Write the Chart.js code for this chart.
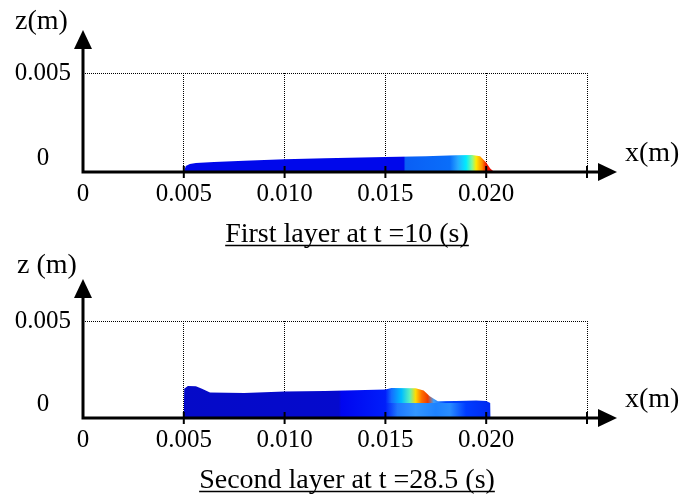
<!DOCTYPE html>
<html>
<head>
<meta charset="utf-8">
<script src="https://cdn.jsdelivr.net/npm/chart.js@4/dist/chart.umd.min.js"></script>
<style>
  html, body { margin: 0; padding: 0; background: #fff; }
  canvas { display: block; }
</style>
</head>
<body>
<canvas id="layer1" width="682" height="250"></canvas>
<canvas id="layer2" width="682" height="249"></canvas>
<script>
// axes
const xTicks = [0, 0.005, 0.010, 0.015, 0.020, 0.025];
const xTickLabels = ['0', '0.005', '0.010', '0.015', '0.020', ''];
const zTicks = [0, 0.005];
const zTickLabels = ['0', '0.005'];

// first layer, t = 10 s : top surface of the deposit
const layer1X = [0.0050, 0.0051, 0.0053, 0.0056, 0.0065, 0.0080, 0.0100, 0.0120, 0.0150, 0.0170, 0.0185, 0.0193, 0.0197, 0.0200, 0.0202, 0.0204];
const layer1Z = [-0.0008, -0.00045, -0.00033, -0.00028, -0.00022, -0.00014, -0.00005, 0.0000, 0.00008, 0.00013, 0.00018, 0.00019, 0.00012, -0.00025, -0.0006, -0.0008];
const layer1ColorX = [0.0050, 0.0159, 0.0160, 0.0182, 0.0186, 0.0190, 0.0193, 0.0195, 0.0198, 0.0200, 0.0205];
const layer1Colors = ['rgb(0,8,235)', 'rgb(0,8,235)', 'rgb(10,95,245)', 'rgb(10,110,250)', 'rgb(40,170,255)', 'rgb(0,235,255)',
  'rgb(130,250,150)', 'rgb(255,235,0)', 'rgb(255,140,0)', 'rgb(240,20,0)', 'rgb(230,0,0)'];

// second layer, t = 28.5 s
const layer2X = [0.0050, 0.00502, 0.0052, 0.0056, 0.0059, 0.0063, 0.0080, 0.0100, 0.0120, 0.0150, 0.0153, 0.0165, 0.0169, 0.0172, 0.0176, 0.0185, 0.0195, 0.0200, 0.0202, 0.02022];
const layer2Z = [-0.0008, 0.00095, 0.00112, 0.00110, 0.00095, 0.00072, 0.00070, 0.00078, 0.00082, 0.00090, 0.00100, 0.00098, 0.00085, 0.00050, 0.00020, 0.00022, 0.00024, 0.00022, 0.00010, -0.0008];
const layer2ColorX = [0.0050, 0.0127, 0.0128, 0.0150, 0.0153, 0.0158, 0.0162, 0.0165, 0.0168, 0.0171, 0.0174, 0.0180, 0.0203];
const layer2Colors = ['rgb(5,10,200)', 'rgb(5,10,205)', 'rgb(0,5,240)', 'rgb(0,30,250)', 'rgb(20,110,255)', 'rgb(0,190,255)',
  'rgb(90,240,190)', 'rgb(255,220,0)', 'rgb(255,110,0)', 'rgb(240,60,0)', 'rgb(60,160,255)', 'rgb(0,70,255)', 'rgb(0,40,240)'];
// lower band of the second layer below the step
const band2X = [0.0150, 0.0202];
const band2Z = [0.0001, 0.0001];
const band2ColorX = [0.0150, 0.0156, 0.0165, 0.0175, 0.0182, 0.0190, 0.0203];
const band2Colors = ['rgb(0,30,250)', 'rgb(30,120,255)', 'rgb(50,150,255)', 'rgb(30,130,255)', 'rgb(40,140,255)', 'rgb(0,60,255)', 'rgb(0,40,240)'];

const serif = '"Liberation Serif", "Times New Roman", serif';

function gradientFill(xs, cols) {
  return function (c) {
    const chart = c.chart;
    const a = chart.chartArea;
    if (!a) return cols[0];
    const sx = chart.scales.x;
    const g = chart.ctx.createLinearGradient(a.left, 0, a.right, 0);
    xs.forEach((v, i) => {
      const off = (sx.getPixelForValue(v) - a.left) / (a.right - a.left);
      g.addColorStop(Math.min(1, Math.max(0, off)), cols[i]);
    });
    return g;
  };
}

function pts(xs, zs) {
  return xs.map((v, i) => ({ x: v, y: zs[i] }));
}

const axesPlugin = {
  id: 'axes',
  afterDraw(chart, args, o) {
    const { ctx, chartArea: a } = chart;
    const sx = chart.scales.x;
    ctx.save();
    ctx.strokeStyle = '#000';
    ctx.fillStyle = '#000';
    ctx.lineWidth = 3;
    ctx.beginPath();
    ctx.moveTo(a.left, a.bottom + 1.5);
    ctx.lineTo(a.left, o.tipY + 16);
    ctx.moveTo(a.left - 1.5, a.bottom);
    ctx.lineTo(o.tipX - 16, a.bottom);
    ctx.stroke();
    // arrow heads
    ctx.beginPath();
    ctx.moveTo(a.left, o.tipY);
    ctx.lineTo(a.left - 9, o.tipY + 19);
    ctx.lineTo(a.left + 9, o.tipY + 19);
    ctx.closePath();
    ctx.fill();
    ctx.beginPath();
    ctx.moveTo(o.tipX, a.bottom);
    ctx.lineTo(o.tipX - 19, a.bottom - 9);
    ctx.lineTo(o.tipX - 19, a.bottom + 9);
    ctx.closePath();
    ctx.fill();
    // tick marks across the x axis
    ctx.lineWidth = 2;
    sx.ticks.forEach(t => {
      if (t.value === 0) return;
      const px = sx.getPixelForValue(t.value);
      ctx.beginPath();
      ctx.moveTo(px, a.bottom - 6);
      ctx.lineTo(px, a.bottom + 6);
      ctx.stroke();
    });
    // axis names
    ctx.font = '28px ' + serif;
    ctx.textAlign = 'left';
    ctx.textBaseline = 'alphabetic';
    ctx.fillText(o.zLabel, o.zX, o.zBase);
    ctx.fillText('x(m)', 625, a.bottom - 11);
    // caption, underlined
    ctx.textAlign = 'center';
    ctx.fillText(o.caption, 347, o.capBase);
    const w = ctx.measureText(o.caption).width;
    ctx.lineWidth = 1.5;
    ctx.beginPath();
    ctx.moveTo(347 - w / 2, o.capBase + 3.5);
    ctx.lineTo(347 + w / 2, o.capBase + 3.5);
    ctx.stroke();
    ctx.restore();
  }
};

function panel(id, h, top, axisY, datasets, opts) {
  new Chart(document.getElementById(id), {
    type: 'line',
    data: { datasets: datasets },
    options: {
      responsive: false,
      animation: false,
      devicePixelRatio: 1,
      layout: { padding: { top: top, right: 95, left: 0, bottom: 0 } },
      elements: { point: { radius: 0 }, line: { borderWidth: 0, tension: 0 } },
      plugins: {
        legend: { display: false },
        tooltip: { enabled: false },
        axes: opts
      },
      scales: {
        x: {
          type: 'linear', min: 0, max: 0.025,
          afterBuildTicks: s => { s.ticks = xTicks.map(v => ({ value: v })); },
          afterFit: s => { s.height = h - axisY; },
          ticks: {
            autoSkip: false, maxRotation: 0, padding: 7, color: '#000',
            font: { family: serif, size: 25 },
            callback: (v, i) => xTickLabels[i]
          },
          grid: { drawTicks: false, lineWidth: 1, color: c => (c.tick && c.tick.value === 0) ? 'rgba(0,0,0,0)' : '#000' },
          border: { display: false, dash: [1, 1] }
        },
        y: {
          type: 'linear', min: -0.0008, max: 0.005,
          afterBuildTicks: s => { s.ticks = zTicks.map(v => ({ value: v })); },
          afterFit: s => { s.width = 83; },
          ticks: {
            crossAlign: 'center', padding: 12, color: '#000',
            font: { family: serif, size: 25 },
            callback: (v, i) => zTickLabels[i]
          },
          grid: { drawTicks: false, lineWidth: 1, color: c => (c.tick && c.tick.value === 0) ? 'rgba(0,0,0,0)' : '#000' },
          border: { display: false, dash: [1, 1] }
        }
      }
    },
    plugins: [axesPlugin]
  });
}

panel('layer1', 250, 73, 172, [
  { data: pts(layer1X, layer1Z), fill: 'start', backgroundColor: gradientFill(layer1ColorX, layer1Colors), borderWidth: 0, order: 1 }
], { tipY: 30, tipX: 617, zLabel: 'z(m)', zX: 15, zBase: 29, caption: 'First layer at t =10 (s)', capBase: 242 });

panel('layer2', 249, 71, 168, [
  { data: pts(band2X, band2Z), fill: 'start', backgroundColor: gradientFill(band2ColorX, band2Colors), borderWidth: 0, order: 0 },
  { data: pts(layer2X, layer2Z), fill: 'start', backgroundColor: gradientFill(layer2ColorX, layer2Colors), borderWidth: 0, order: 1 }
], { tipY: 29, tipX: 617, zLabel: 'z (m)', zX: 17, zBase: 23, caption: 'Second layer at t =28.5 (s)', capBase: 238 });
</script>
</body>
</html>
